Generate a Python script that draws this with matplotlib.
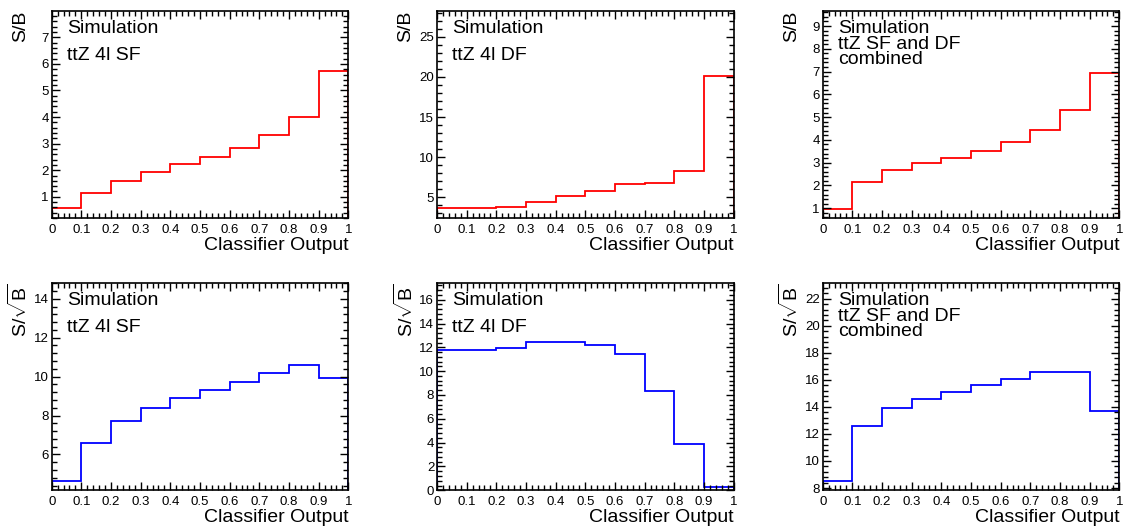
import numpy as np
import matplotlib
matplotlib.use('Agg')
from matplotlib import pyplot as plt
from matplotlib.transforms import ScaledTranslation
from matplotlib.ticker import MultipleLocator, AutoMinorLocator, FormatStrFormatter

plt.rcParams['font.family'] = ['Liberation Sans', 'DejaVu Sans']
plt.rcParams['mathtext.fontset'] = 'custom'
plt.rcParams['mathtext.rm'] = 'Liberation Sans'
plt.rcParams['mathtext.it'] = 'Liberation Sans:italic'

edges = np.linspace(0, 1, 11)

# S/B per classifier bin
sb_sf = [0.57, 1.15, 1.60, 1.95, 2.25, 2.51, 2.83, 3.31, 4.02, 5.72]
sb_df = [3.63, 3.65, 3.76, 4.46, 5.12, 5.75, 6.66, 6.78, 8.24, 20.1]
sb_comb = [0.98, 2.14, 2.67, 2.97, 3.21, 3.53, 3.89, 4.42, 5.31, 6.92]

# S/sqrt(B) per classifier bin
ssb_sf = [4.64, 6.60, 7.70, 8.40, 8.88, 9.30, 9.71, 10.21, 10.58, 9.95]
ssb_df = [11.74, 11.80, 11.91, 12.47, 12.42, 12.16, 11.43, 8.34, 3.85, 0.25]
ssb_comb = [8.52, 12.55, 13.91, 14.60, 15.07, 15.64, 16.09, 16.56, 16.56, 13.71]

lab_sf = 'Simulation\nttZ 4l SF'
lab_df = 'Simulation\nttZ 4l DF'
lab_comb = 'Simulation\nttZ SF and DF\ncombined'

sb_title = 'S/B'
ssb_title = r'S/$\sqrt{\mathrm{B}}$'

panels = [
    (sb_sf, 'red', sb_title, (0.19, 7.99), 1, lab_sf),
    (sb_df, 'red', sb_title, (2.39, 28.2), 5, lab_df),
    (sb_comb, 'red', sb_title, (0.56, 9.66), 1, lab_comb),
    (ssb_sf, 'blue', ssb_title, (4.16, 14.81), 2, lab_sf),
    (ssb_df, 'blue', ssb_title, (0, 17.4), 2, lab_df),
    (ssb_comb, 'blue', ssb_title, (7.83, 23.16), 2, lab_comb),
]

W, H = 1128, 527
fig = plt.figure(figsize=(W / 100, H / 100), dpi=100)

lefts = [51.7, 437.0, 822.7]
tops = [11.0, 283.0]
aw, ah = 296.6, 207.3

for i, (vals, col, ylab, ylim, major, txt) in enumerate(panels):
    row, c = divmod(i, 3)
    ax = fig.add_axes([lefts[c] / W, 1 - (tops[row] + ah) / H, aw / W, ah / H])
    ax.stairs(vals, edges, color=col, lw=1.3)
    ax.set_xlim(0, 1)
    ax.set_ylim(*ylim)
    ax.xaxis.set_major_locator(MultipleLocator(0.1))
    ax.xaxis.set_minor_locator(AutoMinorLocator(5))
    ax.xaxis.set_major_formatter(FormatStrFormatter('%g'))
    ax.yaxis.set_major_locator(MultipleLocator(major))
    ax.yaxis.set_minor_locator(AutoMinorLocator(5))
    ax.yaxis.set_major_formatter(FormatStrFormatter('%g'))
    ax.tick_params(which='both', direction='in', top=True, right=True,
                   labelsize=9.5, width=1.0)
    ax.tick_params(which='major', length=6)
    ax.tick_params(which='minor', length=3.5)
    ax.tick_params(axis='x', pad=4)
    ax.tick_params(axis='y', pad=2)
    for s in ax.spines.values():
        s.set_linewidth(1.2)
    ax.set_xlabel('Classifier Output', fontsize=14, loc='right', labelpad=1)
    ax.set_ylabel(ylab, fontsize=14, loc='top')
    ax.yaxis.set_label_coords((-23 if row == 0 else -20.5) / aw, 1.0)

    # two-line boxes are spaced wide, the three-line one is packed tight;
    # baseline alignment pins the last line
    if txt.count('\n') == 2:
        spacing, last = 0.87, 53
    else:
        spacing, last = 1.8, 49
    tr = ax.transAxes + ScaledTranslation(15.5 / 100, -last / 100, fig.dpi_scale_trans)
    ax.text(0, 1, txt, transform=tr, fontsize=14, ha='left', va='baseline',
            linespacing=spacing)

fig.savefig('out.png', dpi=100)
